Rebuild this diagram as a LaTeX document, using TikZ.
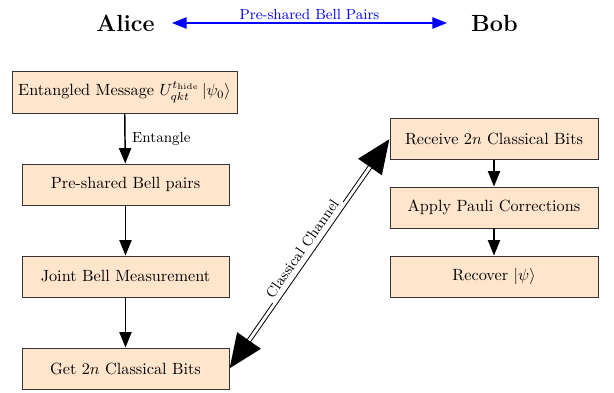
\documentclass[tikz,border=0pt]{standalone}
\usetikzlibrary{arrows.meta}
\tikzset{bigtip/.tip={Triangle[length=21pt,width=17pt]}}
\begin{document}
\begin{tikzpicture}[x=0.615pt,y=-0.615pt,
  box/.style={draw=black!80, line width=0.6pt, fill=orange!20,
    minimum width=207*0.615pt, minimum height=41*0.615pt, inner sep=0pt, font=\normalsize},
  flow/.style={line width=0.9pt, -{Triangle[length=9.5pt,width=7.5pt]}},
  party/.style={font=\Large\bfseries, inner sep=0pt}]
\useasboundingbox (0,0) rectangle (614,393);

\node[party] (alice) at (125.5,23) {Alice};
\node[party] (bob) at (494.5,23) {Bob};
\coordinate (bl) at (172,23);
\coordinate (br) at (447,23);
\draw[blue, line width=0.8pt, {Triangle[length=9pt,width=7pt]}-{Triangle[length=9pt,width=7pt]}] (bl) -- (br)
  node[midway, above, font=\small, inner sep=2pt, yshift=-0.5pt] {Pre-shared Bell Pairs};

\node[box, minimum width=225*0.615pt, minimum height=42*0.615pt] (msg) at (124.5,92)
  {Entangled Message $U_{qkt}^{t_{\mathrm{hide}}}\,|\psi_0\rangle$};
\node[box] (bell) at (125.5,184.5) {Pre-shared Bell pairs};
\node[box] (joint) at (125.5,276.5) {Joint Bell Measurement};
\node[box] (get) at (125.5,368.5) {Get $2n$ Classical Bits};

\node[box, minimum width=208*0.615pt] (recv) at (494,139) {Receive $2n$ Classical Bits};
\node[box, minimum width=208*0.615pt] (pauli) at (494,207.5) {Apply Pauli Corrections};
\node[box, minimum width=208*0.615pt] (recover) at (494,276.5) {Recover $|\psi\rangle$};

\draw[flow] (msg) -- (bell) node[midway, right, font=\small, inner sep=4pt] {Entangle};
\draw[flow] (bell) -- (joint);
\draw[flow] (joint) -- (get);
\draw[flow] (recv) -- (pauli);
\draw[flow] (pauli) -- (recover);

\draw[line width=3pt, {bigtip}-{bigtip}] (get.east) -- (recv.west);
\draw[line width=1.8pt, white, shorten <=21pt, shorten >=21pt] (get.east) -- (recv.west);
\path (get.east) -- (recv.west)
  node[midway, sloped, above, fill=white, text=black, font=\small, inner sep=2pt] {Classical Channel};
\end{tikzpicture}
\end{document}
